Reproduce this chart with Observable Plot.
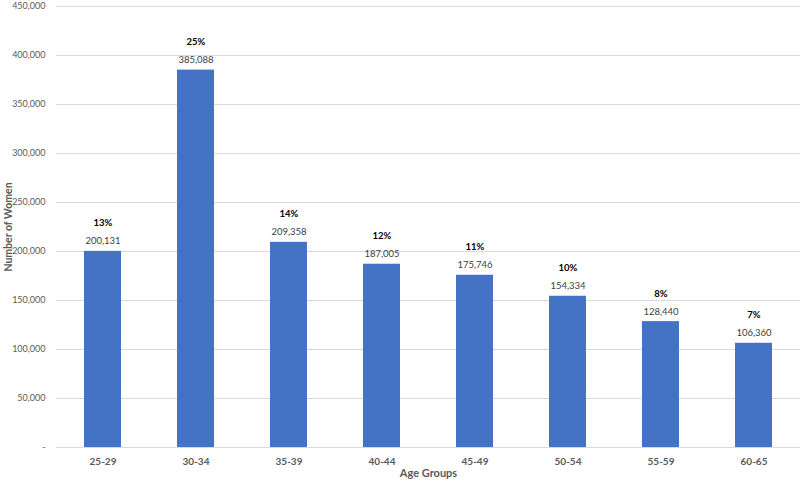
<!DOCTYPE html>
<html>
<head>
<meta charset="utf-8">
<script src="https://cdn.jsdelivr.net/npm/d3@7"></script>
<script src="https://cdn.jsdelivr.net/npm/@observablehq/plot@0.6"></script>
<style>
  html, body { margin: 0; padding: 0; background: #fff; }
  svg { display: block; }
</style>
</head>
<body>
<div id="chart"></div>
<script>
const ageGroups = ["25-29", "30-34", "35-39", "40-44", "45-49", "50-54", "55-59", "60-65"];
const women = [200131, 385088, 209358, 187005, 175746, 154334, 128440, 106360];
const percents = ["13%", "25%", "14%", "12%", "11%", "10%", "8%", "7%"];
const yTicks = [0, 50000, 100000, 150000, 200000, 250000, 300000, 350000, 400000, 450000];

const data = ageGroups.map((g, i) => ({group: g, value: women[i], pct: percents[i]}));
const fmt = d3.format(",");

const chart = Plot.plot({
  width: 800,
  height: 482,
  marginLeft: 56,
  marginRight: 0,
  marginTop: 6,
  marginBottom: 35,
  style: {fontFamily: "Lato, 'Open Sans', sans-serif", fontSize: "9px", color: "#595959", background: "#fff"},
  x: {domain: ageGroups, paddingInner: 0.6, paddingOuter: 0.3, label: null},
  y: {domain: [0, 450000], label: null},
  marks: [
    Plot.gridY(yTicks, {stroke: "#d9d9d9", strokeOpacity: 1}),
    Plot.barY(data, {x: "group", y: "value", fill: "#4472C4"}),
    Plot.axisY(yTicks, {tickSize: 0, tickPadding: 11, tickFormat: d => d === 0 ? "-" : fmt(d), fill: "#595959", fontSize: 9, label: null}),
    Plot.axisX({tickSize: 0, tickPadding: 10, fontWeight: "bold", fill: "#595959", fontSize: 10, label: null}),
    Plot.text(data, {x: "group", y: "value", text: d => fmt(d.value), dy: -10, fill: "#404040", fontSize: 9.5}),
    Plot.text(data, {x: "group", y: "value", text: "pct", dy: -28, fill: "#000", fontWeight: "bold", fontSize: 9.5}),
    Plot.text(["Age Groups"], {frameAnchor: "bottom", dy: 29, fontWeight: "bold", fill: "#595959", fontSize: 11}),
    Plot.text(["Number of Women"], {frameAnchor: "left", dx: -48, rotate: -90, textAnchor: "middle", fontWeight: "bold", fill: "#595959", fontSize: 10.5})
  ]
});
document.getElementById("chart").append(chart);
</script>
</body>
</html>
